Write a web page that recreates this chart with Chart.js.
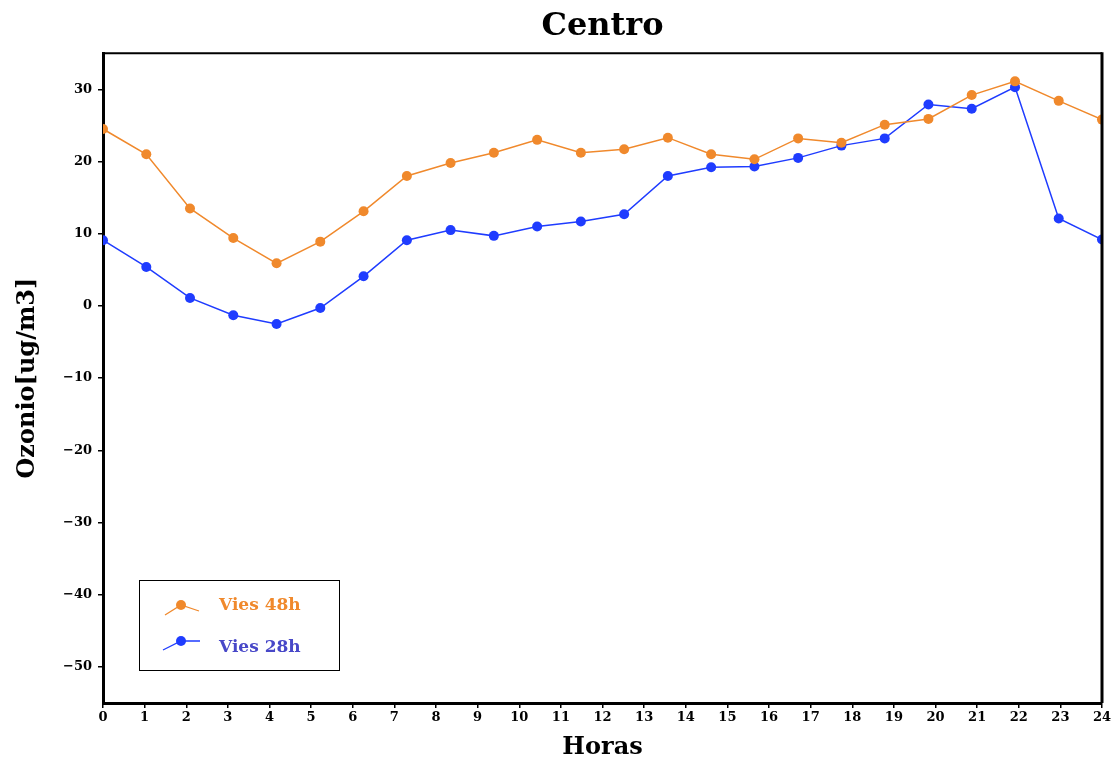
<!DOCTYPE html>
<html>
<head>
<meta charset="utf-8">
<title>Centro</title>
<script src="https://cdn.jsdelivr.net/npm/chart.js@4.4.1/dist/chart.umd.min.js"></script>
<style>
  body { margin: 0; background: #fff; }
  #wrap { width: 1114px; height: 760px; position: relative; }
</style>
</head>
<body>
<div id="wrap"><canvas id="ozChart"></canvas></div>
<script>
// where each of the 24 forecast steps falls on the hour axis
const horas = [0, 1.04, 2.09, 3.13, 4.17, 5.22, 6.26, 7.30, 8.35, 9.39, 10.43, 11.48,
               12.52, 13.57, 14.61, 15.65, 16.70, 17.74, 18.78, 19.83, 20.87, 21.91, 22.96, 24];

// ozone values (ug/m3)
const vies48 = [24.5, 21.0, 13.5, 9.4, 5.9, 8.9, 13.1, 18.0, 19.8, 21.2, 23.0, 21.2,
                21.7, 23.3, 21.0, 20.3, 23.2, 22.6, 25.1, 25.9, 29.2, 31.1, 28.4, 25.8];
const vies28 = [9.1, 5.4, 1.1, -1.3, -2.5, -0.3, 4.1, 9.1, 10.5, 9.7, 11.0, 11.7,
                12.7, 18.0, 19.2, 19.3, 20.5, 22.2, 23.2, 27.9, 27.3, 30.3, 12.1, 9.2];

// axis ticks
const xTicks = [0, 1, 2, 3, 4, 5, 6, 7, 8, 9, 10, 11, 12, 13, 14, 15, 16, 17, 18, 19, 20, 21, 22, 23, 24];
const yTicks = [-50, -40, -30, -20, -10, 0, 10, 20, 30];

const orange = '#f0892c';
const blue = '#1f3cff';
const serif = "'DejaVu Serif', 'Liberation Serif', serif";

function pts(ys) {
  return ys.map((v, i) => ({ x: horas[i], y: v }));
}

// top and right edge of the frame
const frame = {
  id: 'frame',
  afterDraw(chart) {
    const { ctx, chartArea: a } = chart;
    ctx.save();
    ctx.strokeStyle = '#000';
    ctx.lineWidth = 2;
    ctx.beginPath();
    ctx.moveTo(a.left, a.top);
    ctx.lineTo(a.right, a.top);
    ctx.stroke();
    ctx.lineWidth = 3;
    ctx.beginPath();
    ctx.moveTo(a.right, a.top - 1);
    ctx.lineTo(a.right, a.bottom);
    ctx.stroke();
    ctx.restore();
  }
};

// boxed legend in the lower left corner
const legendBox = {
  id: 'legendBox',
  afterDraw(chart) {
    const { ctx, chartArea: a } = chart;
    const x0 = a.left + 36, y0 = a.bottom - 123;
    ctx.save();
    ctx.strokeStyle = '#000';
    ctx.lineWidth = 1;
    ctx.strokeRect(x0 + 0.5, y0 + 0.5, 200, 90);
    const rows = [
      { my: 25, ty: 26, l: [-16, 10], r: [18, 6], txt: orange },
      { my: 61, ty: 68, l: [-18, 9], r: [19, 0], txt: '#4848c8' }
    ];
    chart.data.datasets.forEach((ds, i) => {
      const r = rows[i];
      const mx = x0 + 42, my = y0 + r.my;
      ctx.strokeStyle = ds.borderColor;
      ctx.lineWidth = 1.3;
      ctx.beginPath();
      ctx.moveTo(mx + r.l[0], my + r.l[1]);
      ctx.lineTo(mx, my);
      ctx.lineTo(mx + r.r[0], my + r.r[1]);
      ctx.stroke();
      ctx.fillStyle = ds.backgroundColor;
      ctx.beginPath();
      ctx.arc(mx, my, 5, 0, Math.PI * 2);
      ctx.fill();
      ctx.fillStyle = r.txt;
      ctx.font = 'bold 17px ' + serif;
      ctx.textBaseline = 'middle';
      ctx.fillText(ds.label, x0 + 80, y0 + r.ty);
    });
    ctx.restore();
  }
};

const ctx = document.getElementById('ozChart').getContext('2d');
new Chart(ctx, {
  type: 'line',
  data: {
    datasets: [
      {
        label: 'Vies 48h',
        data: pts(vies48),
        borderColor: orange,
        backgroundColor: orange,
        borderWidth: 1.5,
        pointRadius: 5,
        pointBorderWidth: 0,
        tension: 0
      },
      {
        label: 'Vies 28h',
        data: pts(vies28),
        borderColor: blue,
        backgroundColor: blue,
        borderWidth: 1.5,
        pointRadius: 5,
        pointBorderWidth: 0,
        tension: 0
      }
    ]
  },
  options: {
    responsive: true,
    maintainAspectRatio: false,
    animation: false,
    layout: { padding: { left: 0, right: 12, top: 0, bottom: 0 } },
    plugins: {
      legend: { display: false },
      tooltip: { enabled: false },
      title: {
        display: true,
        text: 'Centro',
        fullSize: false,
        color: '#000',
        font: { family: serif, size: 32, weight: 'bold', lineHeight: 1.1 },
        padding: { top: 9, bottom: 9 }
      }
    },
    scales: {
      x: {
        type: 'linear',
        min: 0,
        max: 24,
        afterFit(s) { s.height = 57; },
        afterBuildTicks(s) { s.ticks = xTicks.map(v => ({ value: v })); },
        grid: { drawOnChartArea: false, drawTicks: true, tickLength: 5, color: '#000', lineWidth: 1.5 },
        border: { display: true, color: '#000', width: 3 },
        ticks: {
          color: '#000',
          padding: 2,
          maxRotation: 0,
          autoSkip: false,
          font: { family: serif, size: 13, weight: 'bold' }
        },
        title: {
          display: true,
          text: 'Horas',
          color: '#000',
          font: { family: serif, size: 24, weight: 'bold', lineHeight: 1 },
          padding: { top: 0, bottom: 0 }
        }
      },
      y: {
        min: -55,
        max: 35,
        afterFit(s) { s.width = 103; },
        afterBuildTicks(s) { s.ticks = yTicks.map(v => ({ value: v })); },
        grid: { drawOnChartArea: false, drawTicks: true, tickLength: 5, color: '#000', lineWidth: 1.5 },
        border: { display: true, color: '#000', width: 3 },
        ticks: {
          color: '#000',
          padding: 6,
          font: { family: serif, size: 13, weight: 'bold' },
          callback: v => String(v).replace('-', '\u2212')
        },
        title: {
          display: true,
          text: 'Ozonio[ug/m3]',
          color: '#000',
          font: { family: serif, size: 24, weight: 'bold', lineHeight: 1.2 },
          padding: { top: 13 }
        }
      }
    }
  },
  plugins: [frame, legendBox]
});
</script>
</body>
</html>
